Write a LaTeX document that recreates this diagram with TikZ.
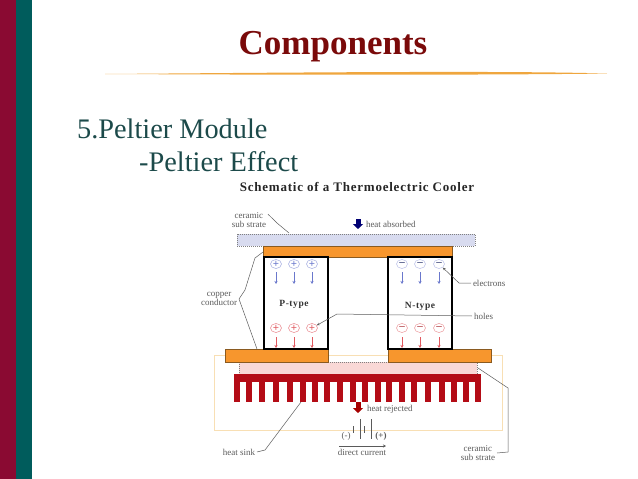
\documentclass[tikz,border=0pt]{standalone}
\usepackage{fontspec}
\setmainfont{Liberation Serif}
\usetikzlibrary{arrows.meta}
\usetikzlibrary{shapes.geometric}
\definecolor{barred}{HTML}{8A0A32}
\definecolor{barteal}{HTML}{005C5C}
\definecolor{titlered}{HTML}{7A0A0A}
\definecolor{bodyteal}{HTML}{1C4A4A}
\definecolor{rulegold}{HTML}{EFA63E}
\definecolor{copperfill}{HTML}{F7962D}
\definecolor{copperedge}{HTML}{8A5A20}
\definecolor{sinkred}{HTML}{B40C16}
\definecolor{wiretan}{HTML}{F8DFB4}
\definecolor{coldfill}{HTML}{D8DBEF}
\definecolor{hotfill}{HTML}{F9D8D6}
\definecolor{labelgray}{HTML}{5A5A5A}
\definecolor{coldblue}{HTML}{6A78CC}
\definecolor{hotred}{HTML}{E05A60}
\tikzset{
  copper/.style={fill=copperfill, draw=copperedge, line width=0.5pt},
  tiny/.style={font=\fontsize{9}{9.6}\selectfont, text=labelgray, inner sep=0pt, outer sep=2pt, align=center},
  body/.style={anchor=west, font=\fontsize{28.3}{28.3}\selectfont, text=bodyteal, inner sep=0pt},
  kind/.style={font=\fontsize{9.5}{10}\bfseries\addfontfeature{LetterSpace=6}, text=black!80},
  leader/.style={draw=labelgray, line width=0.5pt},
  plate/.style={line width=0.5pt, dash pattern=on 1pt off 1pt},
  charge/.style={ellipse, draw, line width=0.5pt, minimum width=11pt, minimum height=9pt, inner sep=0pt, font=\fontsize{11}{11}\bfseries\selectfont},
  drift/.style={line width=0.6pt, -{Stealth[length=3pt,width=3pt]}},
  heatflow/.style={line width=5pt, -{Triangle[length=5pt,width=10pt]}}
}
\begin{document}
\begin{tikzpicture}[x=1pt,y=-1pt]
\useasboundingbox (0,0) rectangle (638,479);

% slide
\fill[barred] (0,0) rectangle (16,479);
\fill[barteal] (16,0) rectangle (32,479);
\node[font=\fontsize{35}{35}\bfseries\selectfont, text=titlered] (title) at (333,47) {Components};
\fill[rulegold] (105,74) .. controls (300,72.5) and (500,70.5) .. (607,73.5)
  .. controls (500,75) and (300,75) .. (105,74) -- cycle;
\node[body] (module) at (77,129) {5.Peltier Module};
\node[body] (effect) at (139,162) {-Peltier Effect};
\node[font=\fontsize{13}{13}\bfseries\addfontfeature{LetterSpace=6}, text=black!85] (schematic) at (357,187) {Schematic of a Thermoelectric Cooler};

% wire loop and battery
\draw[wiretan, line width=1pt] (214,355) rectangle (502,430);
\foreach \x/\a/\b in {353/426/433, 360/419/439, 364/426/433, 371/419/439}
  \draw[labelgray, line width=0.7pt] (\x,\a) -- (\x,\b);

% ceramic plates
\draw[plate, draw=gray, fill=coldfill] (237,234) rectangle (475,246);
\draw[plate, draw=gray, fill=hotfill] (239,362) rectangle (477,374);

% copper
\draw[copper] (263,246) rectangle (452,257);
\draw[copper] (225,349) rectangle (328,362);
\draw[copper] (388,349) rectangle (491,362);

% pellets
\draw[line width=1.1pt] (264,257) rectangle (328,349);
\draw[line width=1.1pt] (388,257) rectangle (452,349);
\node[kind] (ptype) at (294,304) {P-type};
\node[kind] (ntype) at (420,306) {N-type};

% charges
\foreach \x [count=\i] in {276,294,312} {
  \node[charge, draw=coldblue!60, text=coldblue] (ptop\i) at (\x,264) {+};
  \node[charge, draw=hotred!70, text=hotred] (pbot\i) at (\x,328) {+};
  \draw[drift, coldblue] (\x,272) -- (\x,284);
  \draw[drift, hotred] (\x,337) -- (\x,348);
}
\foreach \x [count=\i] in {402,420,439} {
  \node[charge, draw=coldblue!45, text=coldblue!60!black] (ntop\i) at (\x,264) {–};
  \node[charge, draw=hotred!60, text=hotred!80!black] (nbot\i) at (\x,328) {–};
  \draw[drift, coldblue] (\x,272) -- (\x,284);
  \draw[drift, hotred] (\x,337) -- (\x,348);
}

% heat sink
\fill[sinkred] (234,374) rectangle (481,382);
\foreach \x in {234,246,259,273,287,300,312,324,337,350,362,375,386,399,411,425,439,451,463,475}
  \fill[sinkred] (\x,382) rectangle +(6,20);

% heat arrows
\draw[heatflow, blue!45!black] (358,219) -- (358,229);
\node[tiny, anchor=west] (absorbed) at (364,224) {heat absorbed};
\draw[heatflow, red!65!black] (358,402) -- (358,413);
\node[tiny, anchor=west] (rejected) at (365,409) {heat rejected};

% battery text
\node[tiny] (minus) at (346,436) {(-)};
\node[tiny] (plus) at (381,436) {\textbf{(+)}};
\node[tiny] (current) at (362,452) {direct current};
\coordinate (currenta) at (339,446);
\coordinate (currentb) at (386,446);
\draw[leader, -{Stealth[length=3pt,width=3pt]}] (currenta) -- (currentb);

% labels
\node[tiny, anchor=east] (topsub) at (268,220) {ceramic\\sub strate};
\node[tiny, anchor=east] (conductor) at (239,299) {copper\\conductor};
\node[tiny, anchor=west] (electrons) at (471,283) {electrons};
\node[tiny, anchor=west] (holes) at (472,316) {holes};
\node[tiny, anchor=east] (sink) at (257,452) {heat sink};
\node[tiny, anchor=east] (botsub) at (497,453) {ceramic\\sub strate};

% leaders
\coordinate (topplate) at (289,233);
\coordinate (coppertop) at (263,252);
\coordinate (copperbot) at (257,349);
\coordinate (fin) at (301,402);
\coordinate (botplate) at (478,368);
\draw[leader] (topsub.north east) ++(0,4) -- (277,223) -- (topplate);
\draw[leader] (conductor.east) -- (245,290) -- (255,258) -- (coppertop);
\draw[leader] (conductor.east) -- (copperbot);
\draw[leader, -{Stealth[length=3pt,width=2.5pt]}] (electrons.west) -- (459,283) -- (ntop3);
\draw[leader, -{Stealth[length=3pt,width=2.5pt]}] (holes.west) -- (337,314) -- (pbot3);
\draw[leader] (sink.east) -- (265,450) -- (fin);
\draw[leader] (botsub.east) -- (508,452) -- (508,388) -- (botplate);
\end{tikzpicture}
\end{document}
